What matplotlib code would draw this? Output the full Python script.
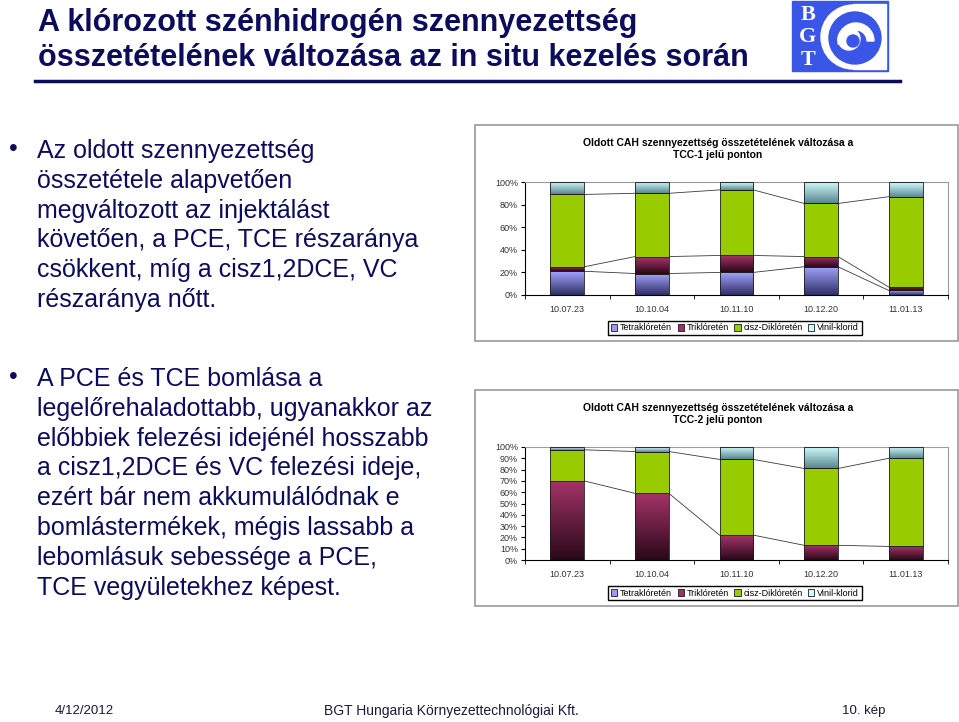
import numpy as np
import matplotlib
matplotlib.use('Agg')
from matplotlib import pyplot as plt
from matplotlib.patches import Rectangle, Circle, Wedge
from matplotlib.colors import LinearSegmentedColormap

plt.rcParams['font.family'] = ['Liberation Sans', 'DejaVu Sans']

# adatok
dates = ['10.07.23', '10.10.04', '10.11.10', '10.12.20', '11.01.13']
series = ['Tetraklóretén', 'Triklóretén', 'cisz-Diklóretén', 'Vinil-klorid']

tcc1_tetra = [21, 19, 20, 25, 4]
tcc1_tri = [4, 15, 15, 9, 3]
tcc1_cdce = [64, 56, 58, 47, 80]
tcc1_vc = [11, 10, 7, 19, 13]

tcc2_tetra = [0, 0, 0, 0, 0]
tcc2_tri = [70, 59, 22, 13, 12]
tcc2_cdce = [27.5, 37, 67, 68, 78]
tcc2_vc = [2.5, 4, 11, 19, 10]

title_lines = ['A klórozott szénhidrogén szennyezettség',
               'összetételének változása az in situ kezelés során']
bullet1 = ['Az oldott szennyezettség', 'összetétele alapvetően',
           'megváltozott az injektálást', 'követően, a PCE, TCE részaránya',
           'csökkent, míg a cisz1,2DCE, VC', 'részaránya nőtt.']
bullet2 = ['A PCE és TCE bomlása a', 'legelőrehaladottabb, ugyanakkor az',
           'előbbiek felezési idejénél hosszabb', 'a cisz1,2DCE és VC felezési ideje,',
           'ezért bár nem akkumulálódnak e', 'bomlástermékek, mégis lassabb a',
           'lebomlásuk sebessége a PCE,', 'TCE vegyületekhez képest.']

W, H = 959, 722
navy = '#0c0c5c'
logo_blue = '#3a56e6'

# (felső szín, alsó szín)
grad = [('#a4a4ff', '#2f2f66'), ('#a33468', '#2a0818'),
        (None, '#99cc00'), ('#d4ffff', '#5b8791')]
legend_cols = ['#9999ff', '#993366', '#99cc00', '#ccffff']


def fx(px):
    return px / W


def fy(py):
    return 1 - py / H


fig = plt.figure(figsize=(W / 100, H / 100), dpi=100)
fig.patch.set_facecolor('white')

# cím
for i, t in enumerate(title_lines):
    fig.text(fx(38), fy(23 + 35 * i), t, fontsize=22, fontweight='bold',
             color=navy, va='center', ha='left')
fig.add_artist(plt.Line2D([fx(35), fx(900)], [fy(81), fy(81)],
                          color=navy, lw=2.5))

# logó
fig.add_artist(Rectangle((fx(792), fy(71)), fx(888) - fx(792), fy(1) - fy(71),
                         transform=fig.transFigure, color=logo_blue, zorder=-1))
for i, ch in enumerate('BGT'):
    fig.text(fx(808), fy(15 + 22.5 * i), ch, fontsize=16, fontweight='bold',
             family='Liberation Serif', color='white', ha='center', va='center')
ax_logo = fig.add_axes([fx(818), fy(71), fx(888) - fx(818), fy(1) - fy(71)])
ax_logo.set_xlim(0, 70)
ax_logo.set_ylim(70, 0)
ax_logo.axis('off')
ax_logo.add_patch(Rectangle((35, 3), 33, 65, color='white'))
ax_logo.add_patch(Circle((35, 36), 32, color='white'))
ax_logo.add_patch(Circle((37, 37), 26, color=logo_blue))
ax_logo.add_patch(Wedge((38, 40), 18, 170, 360, width=7, color='white'))
ax_logo.add_patch(Circle((31, 38), 11, color='white'))
ax_logo.add_patch(Circle((35, 40), 6, color=logo_blue))

# felsorolás
for block, y0 in ((bullet1, 151), (bullet2, 379)):
    fig.text(fx(9), fy(y0 - 2), '•', fontsize=18, color=navy, va='center')
    for i, line in enumerate(block):
        fig.text(fx(37), fy(y0 + 29.8 * i), line, fontsize=18, color=navy,
                 va='center', ha='left')


def draw_chart(top, values, yticks, label):
    # keret
    fig.add_artist(Rectangle((fx(475), fy(top + 216)), fx(958) - fx(475),
                             fy(top) - fy(top + 216), transform=fig.transFigure,
                             facecolor='white', edgecolor='#9a9a9a', lw=1.2,
                             zorder=-1))
    fig.text(fx(718), fy(top + 24), 'Oldott CAH szennyezettség összetételének változása a\n'
             + label + ' jelű ponton', fontsize=7.5, fontweight='bold',
             ha='center', va='center', linespacing=1.25)
    ax = fig.add_axes([fx(525), fy(top + 170), fx(948) - fx(525),
                       fy(top + 57) - fy(top + 170)])
    x = np.arange(len(dates))
    w = 0.4
    bottom = np.zeros(len(dates))
    cums = []
    for k, vals in enumerate(values):
        vals = np.array(vals, dtype=float)
        top_col, bot_col = grad[k]
        bars = ax.bar(x, vals, w, bottom=bottom, color=bot_col,
                      edgecolor='#1a1a1a', lw=0.6, zorder=3)
        if top_col is not None:
            cmap = LinearSegmentedColormap.from_list('g', [bot_col, top_col])
            for b in bars:
                if b.get_height() <= 0:
                    continue
                x0, y0 = b.get_x(), b.get_y()
                im = ax.imshow(np.linspace(0, 1, 64).reshape(-1, 1), cmap=cmap,
                               origin='lower', aspect='auto', zorder=2,
                               extent=(x0, x0 + w, y0, y0 + b.get_height()))
                im.set_clip_path(b)
                b.set_facecolor('none')
        bottom = bottom + vals
        cums.append(bottom.copy())
    # sorozatvonalak
    for c in cums[:-1]:
        for i in range(len(dates) - 1):
            ax.plot([i + w / 2, i + 1 - w / 2], [c[i], c[i + 1]],
                    color='#3a3a3a', lw=0.6, zorder=1)
    ax.set_xlim(-0.5, len(dates) - 0.5)
    ax.set_ylim(0, 100)
    ax.set_yticks(yticks)
    ax.set_yticklabels([f'{t}%' for t in yticks], fontsize=6.5, color='#333333')
    ax.set_xticks(x)
    ax.set_xticklabels(dates, fontsize=6.5, color='#333333')
    ax.tick_params(axis='x', length=0, pad=7)
    ax.set_xticks(np.arange(-0.5, len(dates)), minor=True)
    ax.tick_params(axis='x', which='minor', length=3, direction='out')
    ax.tick_params(axis='y', length=3, direction='out', pad=2)
    for s in ('top', 'right'):
        ax.spines[s].set_color('#9a9a9a')
    for s in ('left', 'bottom'):
        ax.spines[s].set_color('black')
        ax.spines[s].set_linewidth(0.8)
    handles = [Rectangle((0, 0), 1, 1, facecolor=c, edgecolor='#1a1a1a', lw=0.6)
               for c in legend_cols]
    fig.legend(handles, series, loc='center', ncol=4, fontsize=6.5,
               bbox_to_anchor=(fx(735), fy(top + 203)), frameon=True,
               fancybox=False, edgecolor='black', handlelength=0.7,
               handleheight=0.7, handletextpad=0.3, columnspacing=0.6,
               borderpad=0.3, borderaxespad=0, framealpha=1)


draw_chart(125, [tcc1_tetra, tcc1_tri, tcc1_cdce, tcc1_vc], range(0, 101, 20), 'TCC-1')
draw_chart(390, [tcc2_tetra, tcc2_tri, tcc2_cdce, tcc2_vc], range(0, 101, 10), 'TCC-2')

# lábléc
fig.text(fx(55), fy(711), '4/12/2012', fontsize=9.5, va='center', color='#1a1a3a')
fig.text(fx(451), fy(711), 'BGT Hungaria Környezettechnológiai Kft.', fontsize=10,
         va='center', ha='center', color='#1a1a3a')
fig.text(fx(885), fy(711), '10. kép', fontsize=9.5, va='center', ha='right',
         color='#1a1a3a')

fig.savefig('out.png', dpi=100)
